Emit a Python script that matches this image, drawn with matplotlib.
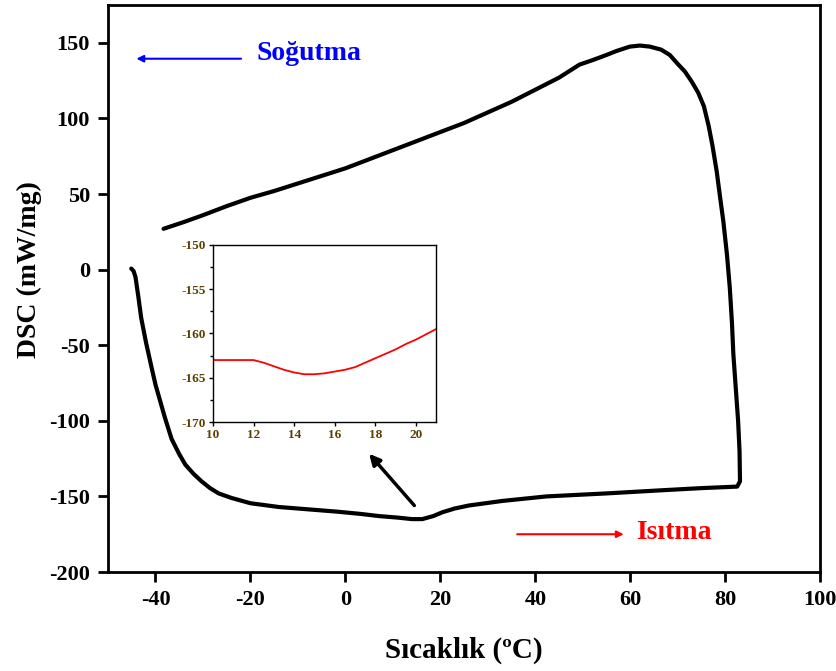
import matplotlib
matplotlib.use("Agg")
import matplotlib.pyplot as plt

plt.rcParams['font.family'] = ['Liberation Serif', 'DejaVu Serif']
plt.rcParams['axes.unicode_minus'] = False

# Main DSC loop (heating lower branch -> cooling upper branch)
temp = [-45.1, -44.6, -44.2, -43.6, -43.0, -42.0, -40.8, -40.0, -39.0, -38.0, -36.6, -35.0,
        -33.7, -32.0, -30.3, -28.5, -26.7, -24.0, -20.0, -14.0, -8.0, -2.0, 3.0, 7.1, 11.0,
        14.0, 16.2, 18.5, 20.4, 23.0, 26.0, 33.0, 42.3, 55.0, 66.2, 75.0, 82.5, 83.1,
        83.0, 82.7, 82.2, 81.7, 81.4, 80.95, 80.35, 79.6, 78.9, 78.2, 77.3, 76.5, 75.5, 74.3,
        73.0, 71.5, 70.0, 68.3, 66.5, 64.1, 62.0, 59.9, 57.0, 55.0, 52.0, 49.3, 45.0, 40.0,
        35.0, 30.0, 25.0, 20.0, 15.0, 10.0, 5.0, 0.0, -5.0, -10.0, -15.0, -20.0, -25.0,
        -30.0, -34.0, -38.3]
dsc = [0.7, -1.0, -5.0, -18.0, -32.0, -48.0, -65.0, -76.0, -87.0, -98.0, -112.0, -122.0,
       -129.0, -135.0, -140.0, -144.5, -148.0, -151.0, -154.5, -157.0, -158.5, -160.0, -161.5,
       -163.0, -164.0, -165.0, -165.0, -163.0, -160.5, -158.0, -156.0, -153.0, -150.0, -148.0,
       -146.0, -144.5, -143.5, -140.0,
       -120.0, -100.0, -78.0, -56.0, -35.0, -12.0, 10.0, 31.7, 48.0, 64.8, 82.0, 95.0, 108.0,
       117.0, 124.0, 131.0, 136.0, 142.0, 145.5, 147.5, 148.2, 147.5, 144.5, 142.0, 138.5,
       135.6, 127.0, 119.0, 111.0, 104.0, 97.0, 91.0, 85.0, 79.0, 73.0, 67.0, 62.0, 57.0,
       52.0, 47.5, 42.0, 36.0, 31.5, 27.0]

# Inset (zoom of heating minimum)
inset_temp = [10.0, 11.0, 12.0, 12.5, 13.0, 13.5, 14.0, 14.5, 15.0, 15.5, 16.0, 16.5, 17.0,
              17.5, 18.0, 18.5, 19.0, 19.5, 20.0, 20.5, 21.0]
inset_dsc = [-163.0, -163.0, -163.0, -163.3, -163.7, -164.1, -164.4, -164.6, -164.6, -164.5,
             -164.3, -164.1, -163.8, -163.3, -162.8, -162.3, -161.8, -161.2, -160.7, -160.1, -159.5]

x_ticks = [-40, -20, 0, 20, 40, 60, 80, 100]
y_ticks = [-200, -150, -100, -50, 0, 50, 100, 150]
inset_x_ticks = [10, 12, 14, 16, 18, 20]
inset_y_ticks = [-170, -165, -160, -155, -150]

fig = plt.figure(figsize=(8.37, 6.71), dpi=100)
ax = fig.add_axes([0.129, 0.1475, 0.851, 0.845])
ax.plot(temp, dsc, color='black', lw=3.0, solid_joinstyle='round', solid_capstyle='round')
ax.set_xlim(-50, 100)
ax.set_ylim(-200, 175)
ax.set_xticks(x_ticks)
ax.set_yticks(y_ticks)
ax.tick_params(direction='out', length=7, width=2, labelsize=16, pad=6)
for lab in ax.get_xticklabels() + ax.get_yticklabels():
    lab.set_fontweight('bold')
for s in ax.spines.values():
    s.set_linewidth(2)
ax.set_xlabel('Sıcaklık (ºC)', fontsize=21, fontweight='bold')
ax.set_ylabel('DSC (mW/mg)', fontsize=20, fontweight='bold')
ax.xaxis.set_label_coords(0.5, -0.114)
ax.yaxis.set_label_coords(-0.093, 0.533)

# Direction annotations
ax.annotate('', xy=(-44.6, 139.5), xytext=(-21.4, 139.5),
            arrowprops=dict(arrowstyle='-|>', color='blue', lw=1.5, mutation_scale=10))
ax.text(-18.7, 143, 'Soğutma', color='blue', fontsize=20, fontweight='bold', va='center', ha='left')
ax.annotate('', xy=(59.2, -175), xytext=(35.6, -175),
            arrowprops=dict(arrowstyle='-|>', color='red', lw=1.5, mutation_scale=10))
ax.text(61.2, -174, 'Isıtma', color='red', fontsize=20, fontweight='bold', va='center', ha='left')
ax.annotate('', xy=(4.6, -120.4), xytext=(14.9, -157.4),
            arrowprops=dict(arrowstyle='-|>', color='black', lw=2.5, mutation_scale=16))

# Inset
axin = fig.add_axes([0.2545, 0.371, 0.2665, 0.264])
axin.plot(inset_temp, inset_dsc, color='red', lw=1.3)
axin.set_xlim(10, 21)
axin.set_ylim(-170, -150)
axin.set_xticks(inset_x_ticks)
axin.set_yticks(inset_y_ticks)
axin.set_yticks([-167.5, -162.5, -157.5, -152.5], minor=True)
axin.tick_params(which='both', direction='out', width=1, labelsize=9.5, pad=2, colors='black')
axin.tick_params(which='major', length=3)
axin.tick_params(which='minor', length=2)
for lab in axin.get_xticklabels() + axin.get_yticklabels():
    lab.set_fontweight('bold')
    lab.set_color('#5a4000')
for s in axin.spines.values():
    s.set_linewidth(1)

fig.savefig('out.png', dpi=100)
